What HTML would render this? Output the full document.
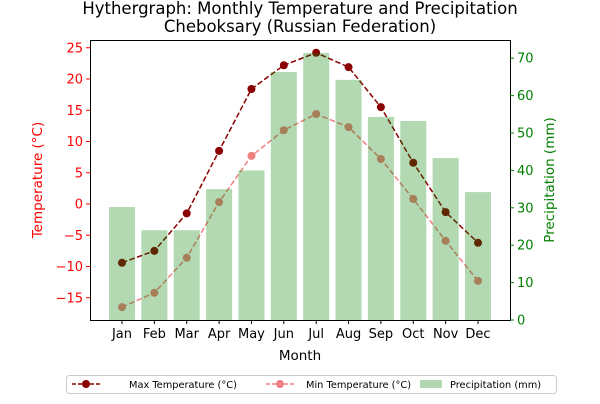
<!DOCTYPE html>
<html><head><meta charset="utf-8"><style>
body{margin:0;background:#fff;font-family:"DejaVu Sans",sans-serif}
</style></head><body>
<svg id="c" width="600" height="400" font-family="DejaVu Sans, sans-serif">
<text x="300" y="14" text-anchor="middle" font-size="16.5">Hythergraph: Monthly Temperature and Precipitation</text>
<text x="300" y="32" text-anchor="middle" font-size="16.5">Cheboksary (Russian Federation)</text>
<g id="lines"></g><g id="bars"></g><g id="axes"></g>
<text x="300" y="360" text-anchor="middle" font-size="13.5">Month</text>
<text transform="translate(42,180) rotate(-90)" text-anchor="middle" font-size="13.5" fill="red">Temperature (°C)</text>
<text transform="translate(554,180) rotate(-90)" text-anchor="middle" font-size="13.5" fill="green">Precipitation (mm)</text>
<g>
<rect x="66.5" y="375.5" width="490" height="18" rx="3" fill="#fff" stroke="#ccc"/>
<g><line x1="72" y1="384" x2="100" y2="384" stroke="darkred" stroke-dasharray="4,2" stroke-width="1.5"/><circle cx="86" cy="384" r="4" fill="darkred"/><text x="129" y="388" font-size="9.8">Max Temperature (°C)</text></g>
<g><line x1="266" y1="384" x2="294" y2="384" stroke="lightcoral" stroke-dasharray="4,2" stroke-width="1.5"/><circle cx="280" cy="384" r="4" fill="lightcoral"/><text x="306" y="388" font-size="9.8">Min Temperature (°C)</text></g>
<g><rect x="420" y="380" width="22" height="8" fill="#b2d8b2"/><text x="450" y="388" font-size="9.8">Precipitation (mm)</text></g>
</g>
</svg>
<script>
const months=["Jan","Feb","Mar","Apr","May","Jun","Jul","Aug","Sep","Oct","Nov","Dec"];
const maxTemp=[-9.4,-7.5,-1.5,8.5,18.4,22.2,24.2,21.9,15.5,6.6,-1.3,-6.2];
const minTemp=[-16.5,-14.2,-8.6,0.3,7.7,11.8,14.4,12.3,7.2,0.8,-5.9,-12.3];
const precip=[30.2,24,24,35,40,66.3,71.4,64.2,54.3,53.2,43.3,34.2];
const tempTicks=[-15,-10,-5,0,5,10,15,20,25];
const precipTicks=[0,10,20,30,40,50,60,70];
const NS="http://www.w3.org/2000/svg";
const L=90,R=510,T=40,B=320;
const xs=i=>122+i*(478-122)/11;
const yT=t=>204-t*6.25;
const yP=p=>320-p*3.74;
function mk(tag,attrs,parent){const e=document.createElementNS(NS,tag);for(const k in attrs)e.setAttribute(k,attrs[k]);document.getElementById(parent).appendChild(e);return e;}
precip.forEach((p,i)=>{const r=mk("rect",{x:xs(i)-13,y:yP(p),width:26,height:B-yP(p),fill:"green","fill-opacity":0.3},"bars");

});
function series(arr,lc,name){
 const pl=mk("polyline",{points:arr.map((v,i)=>xs(i)+","+yT(v)).join(" "),fill:"none",stroke:lc,"stroke-width":1.5,"stroke-dasharray":"5.5,2.5"},"lines");
 
 
 arr.forEach((v,i)=>{const c=mk("circle",{cx:xs(i),cy:yT(v),r:4,fill:lc},"lines");
 
 });
}
series(minTemp,"lightcoral","min-temp");
series(maxTemp,"darkred","max-temp");
const fr=mk("rect",{x:L+.5,y:T+.5,width:R-L,height:B-T,fill:"none",stroke:"#000"},"axes");


tempTicks.forEach(t=>{const y=yT(t);mk("line",{x1:L-4,x2:L,y1:y,y2:y,stroke:"red"},"axes");
const tx=mk("text",{x:L-7,y:y+4.5,"text-anchor":"end","font-size":13,fill:"red"},"axes");tx.textContent=t<0?"\u2212"+(-t):t;

});
precipTicks.forEach(p=>{const y=yP(p);mk("line",{x1:R,x2:R+4,y1:y,y2:y,stroke:"green"},"axes");
const tx=mk("text",{x:R+7,y:y+4.5,"font-size":13,fill:"green"},"axes");tx.textContent=p;

});
months.forEach((m,i)=>{mk("line",{x1:xs(i),x2:xs(i),y1:B,y2:B+4,stroke:"#000"},"axes");
const tx=mk("text",{x:xs(i),y:B+18,"text-anchor":"middle","font-size":13,fill:"#000"},"axes");tx.textContent=m;

});
</script>
</body></html>
